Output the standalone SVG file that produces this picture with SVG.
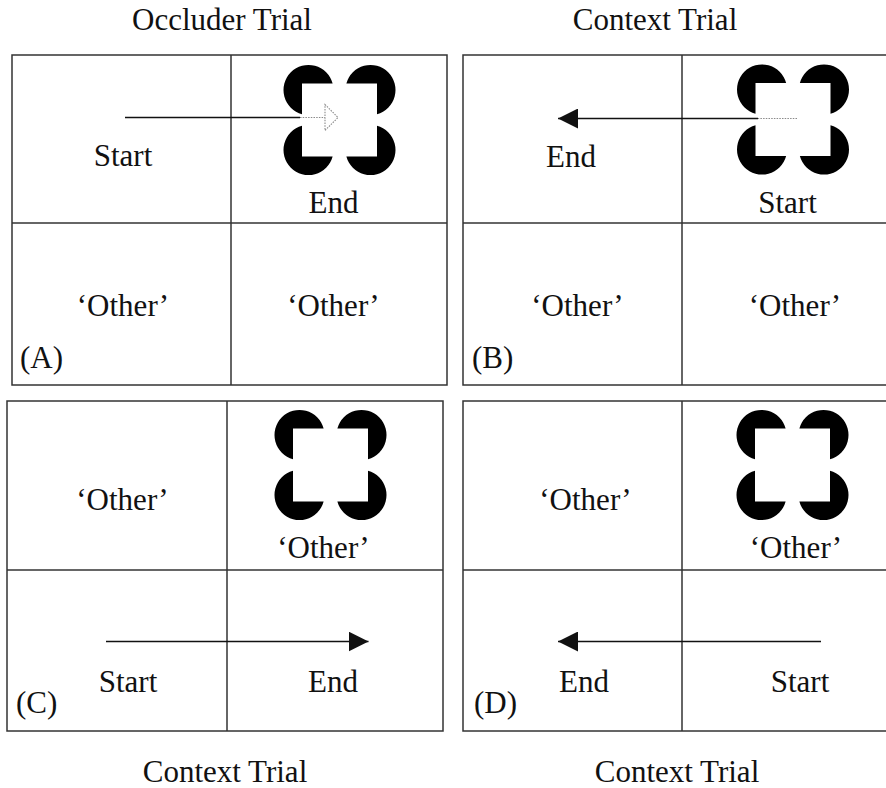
<svg xmlns="http://www.w3.org/2000/svg" xmlns:xlink="http://www.w3.org/1999/xlink" width="886" height="788" viewBox="0 0 886 788">
  <style>
    .frame { fill: none; stroke: #333; stroke-width: 1.5; }
    .divider { stroke: #333; stroke-width: 1.5; }
    .lbl { font-family: "Liberation Serif", "Times New Roman", serif; font-size: 31px; fill: #111; text-anchor: middle; }
    .tag { font-family: "Liberation Serif", "Times New Roman", serif; font-size: 31px; fill: #111; text-anchor: start; }
    .path-line { stroke: #111; stroke-width: 1.3; fill: none; }
    .hidden-line { stroke: #8a8a8a; stroke-width: 1.2; stroke-dasharray: 1.5 1.2; fill: none; }
    .hidden-head { stroke: #8a8a8a; stroke-width: 1.1; stroke-dasharray: 1.5 1.2; fill: #fff; }
  </style>
  <defs>
    <!-- filled arrowhead, tip on the line end -->
    <marker id="head" viewBox="0 0 20 20" refX="20" refY="10" markerWidth="20" markerHeight="20" markerUnits="userSpaceOnUse" orient="auto">
      <path d="M0,0 L20,10 L0,20 Z" fill="#111"/>
    </marker>
    <!-- Kanizsa illusory square: four notched discs around a 75x73 square -->
    <g id="kanizsa" fill="#000">
      <path d="M0,0 L0,30.64 A25,25 0 1 1 30.64,0 Z"/>
      <path d="M75,0 L75,30.64 A25,25 0 1 0 44.36,0 Z"/>
      <path d="M0,73 L0,42.36 A25,25 0 1 0 30.64,73 Z"/>
      <path d="M75,73 L75,42.36 A25,25 0 1 1 44.36,73 Z"/>
    </g>
  </defs>

  <rect width="886" height="788" fill="#fff"/>

  <!-- titles -->
  <g id="titles">
    <text class="lbl" x="222" y="29.5">Occluder Trial</text>
    <text class="lbl" x="655" y="29.5">Context Trial</text>
    <text class="lbl" x="225" y="781.5">Context Trial</text>
    <text class="lbl" x="677" y="781.5">Context Trial</text>
  </g>

  <!-- panel A -->
  <g id="panelA">
    <rect class="frame" x="12" y="55" width="435" height="330"/>
    <line class="divider" x1="231" y1="55" x2="231" y2="385"/>
    <line class="divider" x1="12" y1="223" x2="447" y2="223"/>
    <g id="A-start"><text class="lbl" x="123" y="166">Start</text></g>
    <g id="A-end">
      <use href="#kanizsa" xlink:href="#kanizsa" x="302" y="83.5"/>
      <text class="lbl" x="333.5" y="212.5">End</text>
    </g>
    <g id="A-other1"><text class="lbl" x="123" y="316">‘Other’</text></g>
    <g id="A-other2"><text class="lbl" x="333.5" y="316">‘Other’</text></g>
    <text class="tag" x="20" y="368">(A)</text>
  </g>

  <!-- panel B -->
  <g id="panelB">
    <rect class="frame" x="463" y="55" width="425" height="330"/>
    <line class="divider" x1="682" y1="55" x2="682" y2="385"/>
    <line class="divider" x1="463" y1="223" x2="888" y2="223"/>
    <g id="B-end"><text class="lbl" x="571" y="166.5">End</text></g>
    <g id="B-start">
      <use href="#kanizsa" xlink:href="#kanizsa" x="755.5" y="83"/>
      <text class="lbl" x="787.5" y="212.5">Start</text>
    </g>
    <g id="B-other1"><text class="lbl" x="577.5" y="316">‘Other’</text></g>
    <g id="B-other2"><text class="lbl" x="795" y="316">‘Other’</text></g>
    <text class="tag" x="472" y="368">(B)</text>
  </g>

  <!-- panel C -->
  <g id="panelC">
    <rect class="frame" x="7" y="401" width="436" height="330"/>
    <line class="divider" x1="227" y1="401" x2="227" y2="731"/>
    <line class="divider" x1="7" y1="570" x2="443" y2="570"/>
    <g id="C-other1"><text class="lbl" x="122.5" y="510">‘Other’</text></g>
    <g id="C-other2">
      <use href="#kanizsa" xlink:href="#kanizsa" x="293" y="428.5"/>
      <text class="lbl" x="323.5" y="558">‘Other’</text>
    </g>
    <g id="C-start"><text class="lbl" x="128" y="691.5">Start</text></g>
    <g id="C-end"><text class="lbl" x="333" y="691.5">End</text></g>
    <text class="tag" x="16" y="713">(C)</text>
  </g>

  <!-- panel D -->
  <g id="panelD">
    <rect class="frame" x="463" y="401" width="425" height="330"/>
    <line class="divider" x1="682" y1="401" x2="682" y2="731"/>
    <line class="divider" x1="463" y1="570" x2="888" y2="570"/>
    <g id="D-other1"><text class="lbl" x="585.5" y="510">‘Other’</text></g>
    <g id="D-other2">
      <use href="#kanizsa" xlink:href="#kanizsa" x="755" y="428.5"/>
      <text class="lbl" x="796" y="558">‘Other’</text>
    </g>
    <g id="D-end"><text class="lbl" x="584" y="691.5">End</text></g>
    <g id="D-start"><text class="lbl" x="800" y="691.5">Start</text></g>
    <text class="tag" x="474" y="713">(D)</text>
  </g>

  <!-- motion paths -->
  <g id="connectors">
    <!-- A: visible run, then hidden run behind the occluder -->
    <line class="path-line" x1="125" y1="117.5" x2="300" y2="117.5"/>
    <line class="hidden-line" x1="300" y1="117.5" x2="325" y2="117.5"/>
    <polygon class="hidden-head" points="325,104.5 338,117.5 325,130.5"/>
    <!-- B: hidden start inside the square, then visible run to End -->
    <line class="hidden-line" x1="797" y1="118.5" x2="758" y2="118.5"/>
    <line class="path-line" x1="758" y1="118.5" x2="558" y2="118.5" marker-end="url(#head)"/>
    <!-- C -->
    <line class="path-line" x1="106" y1="641.5" x2="368.5" y2="641.5" marker-end="url(#head)"/>
    <!-- D -->
    <line class="path-line" x1="821" y1="641.5" x2="558" y2="641.5" marker-end="url(#head)"/>
  </g>
</svg>
